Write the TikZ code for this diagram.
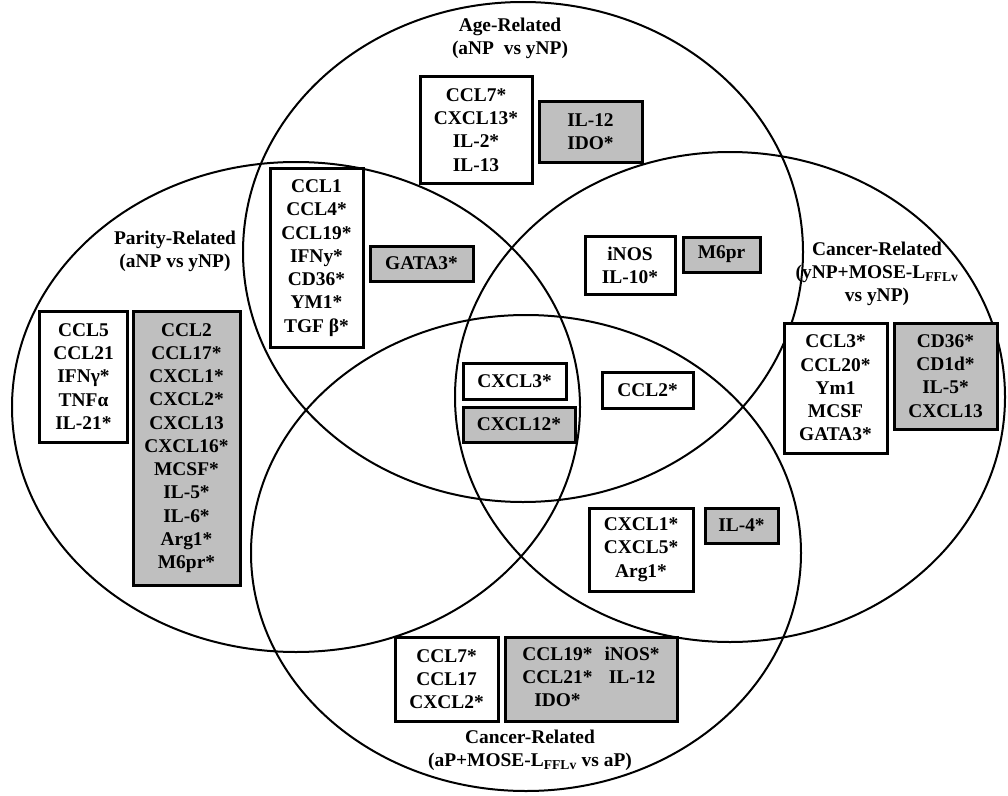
\documentclass[tikz,border=0pt]{standalone}
\usepackage{fontspec}
\setmainfont{Liberation Serif}

\begin{document}
\begin{tikzpicture}[x=1bp,y=-1bp,
  venn/.style={draw=black,line width=2bp},
  genebox/.style={draw=black,line width=3bp,fill=white,align=center,inner sep=0pt,font=\bfseries\fontsize{19.5}{23.3}\selectfont},
  graybox/.style={genebox,fill=black!25},
  grouplbl/.style={align=center,inner sep=0pt,font=\bfseries\fontsize{19.5}{23.3}\selectfont}]
\useasboundingbox (0,0) rectangle (1008,796);
% the four comparisons
\draw[venn] (523,252) ellipse [x radius=280,y radius=250];
\draw[venn] (296,407) ellipse [x radius=284,y radius=245];
\draw[venn] (730,397) ellipse [x radius=275,y radius=245];
\draw[venn] (526,553) ellipse [x radius=275,y radius=238];
% group titles
\node[grouplbl] (ageLbl) at (510,38.5) {Age-Related\\(aNP~ vs yNP)};
\node[grouplbl] (parLbl) at (175,251) {Parity-Related\\(aNP vs yNP)};
\node[grouplbl] (canYLbl) at (877,274) {Cancer-Related\\(yNP+MOSE-L\textsubscript{FFLv}\\vs yNP)};
\node[grouplbl] (canALbl) at (530,750) {Cancer-Related\\(aP+MOSE-L\textsubscript{FFLv} vs aP)};
% age only
\node[genebox,minimum width=112bp,minimum height=106bp] (ageW) at (476,130) {CCL7*\\CXCL13*\\IL-2*\\IL-13};
\node[graybox,minimum width=103bp,minimum height=60bp] (ageG) at (590.5,132) {IL-12\\IDO*};
% age and parity
\node[genebox,minimum width=93bp,minimum height=178bp] (apW) at (316.5,258) {CCL1\\CCL4*\\CCL19*\\IFNy*\\CD36*\\YM1*\\TGF β*};
\node[graybox,minimum width=103bp,minimum height=35bp] (apG) at (421.5,263.5) {GATA3*};
% parity only
\node[genebox,minimum width=87bp,minimum height=131bp] (parW) at (83.5,376.5) {CCL5\\CCL21\\IFNγ*\\TNFα\\IL-21*};
\node[graybox,minimum width=107bp,minimum height=274bp] (parG) at (186.5,448) {CCL2\\CCL17*\\CXCL1*\\CXCL2*\\CXCL13\\CXCL16*\\MCSF*\\IL-5*\\IL-6*\\Arg1*\\M6pr*};
% age and cancer (yNP)
\node[genebox,minimum width=90bp,minimum height=58bp] (acW) at (630,265) {iNOS\\IL-10*};
\node[graybox,minimum width=77bp,minimum height=35bp] (acG) at (721.5,254.5) {M6pr};
% cancer (yNP) only
\node[genebox,minimum width=103bp,minimum height=130bp] (canYW) at (835.5,388) {CCL3*\\CCL20*\\Ym1\\MCSF\\GATA3*};
\node[graybox,minimum width=103bp,minimum height=106bp] (canYG) at (945.5,376) {CD36*\\CD1d*\\IL-5*\\CXCL13};
% centre
\node[genebox,minimum width=103bp,minimum height=36bp] (midW) at (514.5,381) {CXCL3*};
\node[graybox,minimum width=112bp,minimum height=35bp] (midG) at (519,424.5) {CXCL12*};
\node[genebox,minimum width=91bp,minimum height=36bp] (ccW) at (647.5,390) {CCL2*};
% both cancer
\node[genebox,minimum width=104bp,minimum height=83bp] (cbW) at (641,549.5) {CXCL1*\\CXCL5*\\Arg1*};
\node[graybox,minimum width=73bp,minimum height=35bp] (cbG) at (741.5,525.5) {IL-4*};
% cancer (aP) only
\node[genebox,minimum width=103bp,minimum height=84bp] (canAW) at (446.5,679) {CCL7*\\CCL17\\CXCL2*};
\node[graybox,minimum width=172bp,minimum height=84bp] (canAG) at (591,679) {\begin{tabular}{@{}c@{\hspace{12bp}}c@{}}CCL19* & iNOS*\\CCL21* & IL-12\\IDO* & \end{tabular}};
\end{tikzpicture}
\end{document}
